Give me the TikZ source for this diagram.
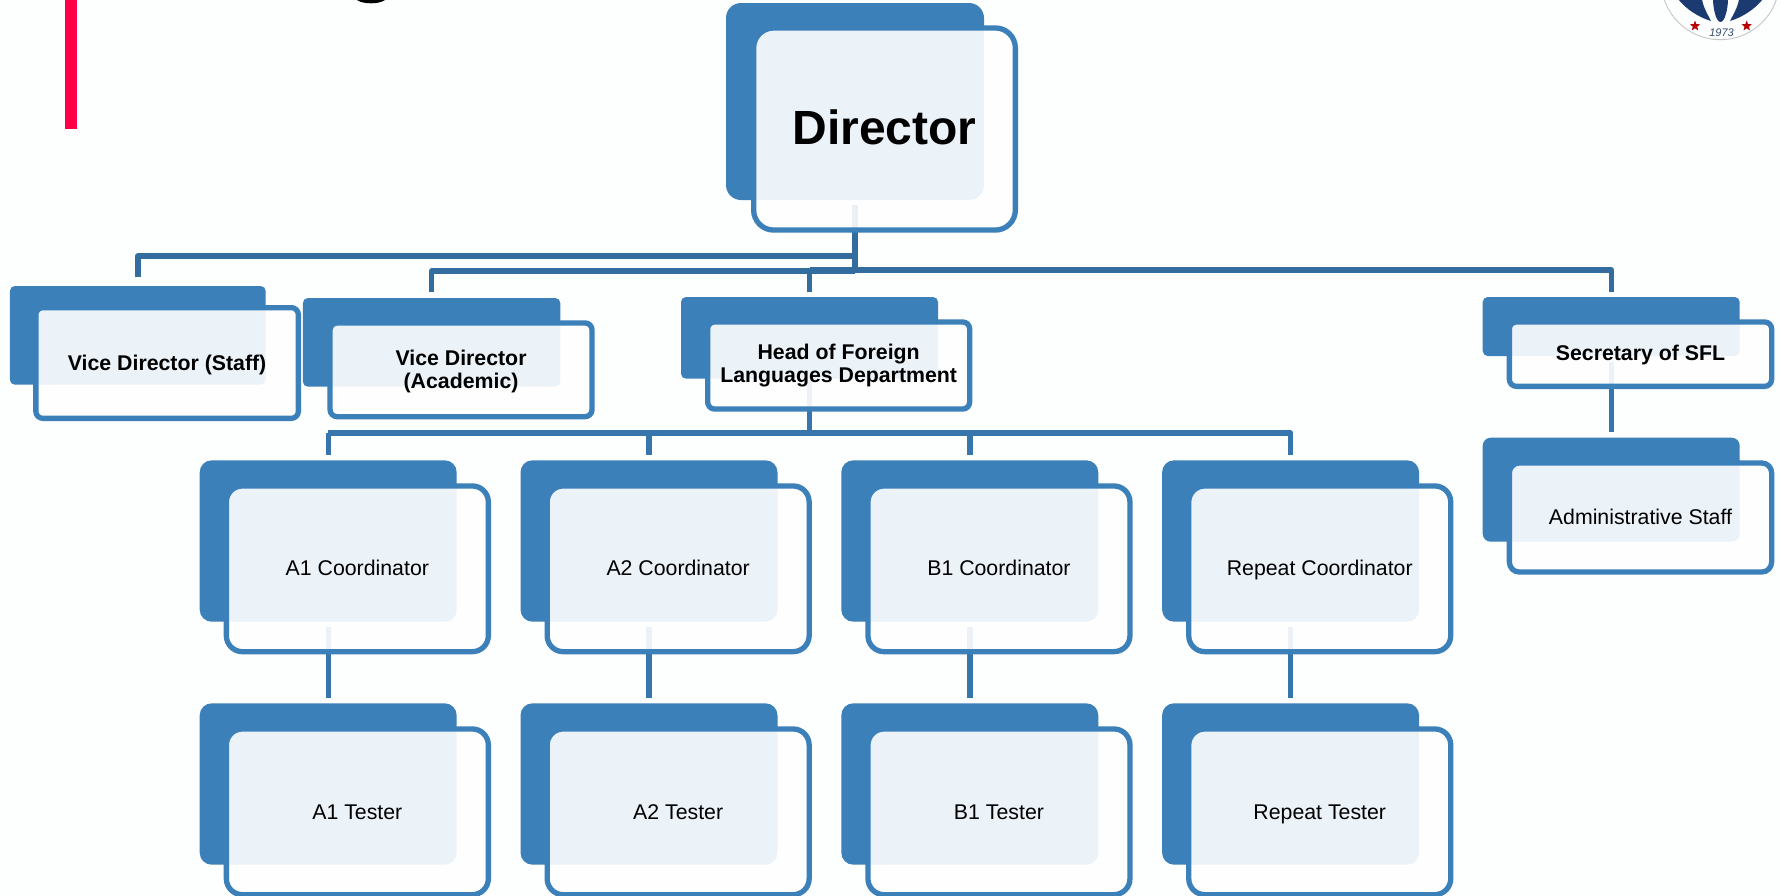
\documentclass[tikz,border=0pt]{standalone}
\usepackage{fontspec}
\setmainfont{Liberation Sans}
\usetikzlibrary{shapes.geometric,calc}
\definecolor{pagebg}{HTML}{FDFEFE}
\definecolor{boxblue}{HTML}{3C80BA}
\definecolor{linetop}{HTML}{336D9F}
\definecolor{linelow}{HTML}{3776AD}
\definecolor{accent}{HTML}{FF0048}
\definecolor{navy}{HTML}{1B3A6F}
\pgfdeclarelayer{backl}
\pgfdeclarelayer{connl}
\pgfsetlayers{backl,connl,main}
\tikzset{
  backbox/.style={rectangle,fill=boxblue,draw=none,inner sep=0pt,outer sep=0pt},
  frontbox/.style={rectangle,draw=boxblue,line width=5.3pt,fill=white,fill opacity=0.9,draw opacity=1,text opacity=1,
    inner sep=0pt,outer sep=0pt,align=center,text=black,
    font=\fontsize{21.3}{23}\selectfont},
  conntop/.style={draw=linetop,line width=5.4pt,line join=round},
  connlow/.style={draw=linelow,line width=5.4pt,line join=round},
  logostar/.style={star,star points=5,star point ratio=2.4,fill=red!72!black,draw=none,minimum size=11pt,inner sep=0pt},
}
% name, x1, y1, x2, y2, radius
\newcommand{\orgback}[6]{%
  \begin{pgfonlayer}{backl}
  \node[backbox,rounded corners=#6pt,minimum width={(#4-#2)*1pt},minimum height={(#5-#3)*1pt}]
    (#1) at ({(#2+#4)/2},{(#3+#5)/2}) {};
  \end{pgfonlayer}}
% name, outer x1, y1, x2, y2, radius, text
\newcommand{\orgfront}[7]{%
  \node[frontbox,rounded corners=#6pt,minimum width={(#4-#2-5.3)*1pt},minimum height={(#5-#3-5.3)*1pt}]
    (#1) at ({(#2+#4)/2},{(#3+#5)/2}) {#7};}
% puts the baseline of a single line the given distance below the node centre
\newcommand{\bln}[1]{\rule[-20pt]{0pt}{\dimexpr 2\dimexpr #1pt\relax + 40pt\relax}}
\begin{document}
\begin{tikzpicture}[x=1pt,y=-1pt]
\useasboundingbox (0,0) rectangle (1781,895);
\begin{pgfonlayer}{backl}
  \fill[pagebg] (0,0) rectangle (1781,895);
  \fill[accent] (65,0) rectangle (77,128.7);
  \fill[black] (357,0) .. controls (363,4.4) and (379,4.4) .. (385,0) -- cycle;
\end{pgfonlayer}

% logo fragment
\begin{scope}
  \clip (1660,0) rectangle (1781,45);
  \draw[gray!45,line width=0.9pt] (1720.3,-19.6) circle (59.3);
  \fill[navy] (1713,-1) -- (1728,-1) .. controls (1728,8) and (1725,22) .. (1720.5,22) .. controls (1716,22) and (1713,8) .. (1713,-1) -- cycle;
  \fill[navy] (1678,-1) -- (1702,-1) .. controls (1703,7) and (1708,15) .. (1711,21) .. controls (1698,17) and (1686,9) .. (1678,-1) -- cycle;
  \fill[navy] (1763,-1) -- (1739,-1) .. controls (1738,7) and (1733,15) .. (1730,21) .. controls (1743,17) and (1755,9) .. (1763,-1) -- cycle;
\end{scope}
\node[logostar] (starL) at (1695,26) {};
\node[logostar] (starR) at (1746.7,26) {};
\node[font=\fontsize{11}{12}\selectfont\itshape,text=navy!75!gray,inner sep=0pt] (year) at (1721.5,32.3) {1973};

% back boxes
\orgback{dirb}{726}{3}{984}{200}{15}
\orgback{staffb}{9.9}{286}{265.7}{384.7}{5}
\orgback{acadb}{302.9}{298}{560.3}{386.7}{5}
\orgback{headb}{681}{297}{938}{378.7}{5}
\orgback{secb}{1482.7}{297}{1739.7}{356}{5}
\orgback{admb}{1482.7}{437.7}{1739.7}{541.7}{8}
\orgback{aoneb}{199.7}{460.3}{456.7}{621.7}{12}
\orgback{atwob}{520.5}{460.3}{777.5}{621.7}{12}
\orgback{boneb}{841.3}{460.3}{1098.3}{621.7}{12}
\orgback{repb}{1162.1}{460.3}{1419.1}{621.7}{12}
\orgback{aonetb}{199.7}{703.3}{456.7}{864.7}{12}
\orgback{atwotb}{520.5}{703.3}{777.5}{864.7}{12}
\orgback{bonetb}{841.3}{703.3}{1098.3}{864.7}{12}
\orgback{reptb}{1162.1}{703.3}{1419.1}{864.7}{12}

% front boxes
\orgfront{dir}{751}{25.3}{1018}{232.7}{20}{\bln{15.3}\fontsize{48}{50}\selectfont\bfseries Director}
\orgfront{staff}{33.2}{305}{301}{421}{7}{\bln{7}\bfseries Vice Director (Staff)}
\orgfront{acad}{327.4}{320.3}{594.7}{419.3}{7}{\rule{0pt}{18.7pt}\bfseries Vice Director\\\bfseries (Academic)}
\orgfront{head}{705}{319.3}{972.3}{411.7}{7}{\rule{0pt}{16.2pt}\bfseries Head of Foreign\\\bfseries Languages Department}
\orgfront{sec}{1506.7}{319.3}{1774.3}{389}{7}{\bln{6.5}\bfseries Secretary of SFL}
\orgfront{adm}{1506.7}{460.3}{1774.3}{574.7}{10}{\bln{6.5}Administrative Staff}
\orgfront{aone}{223.7}{483.3}{491}{654.3}{16}{\bln{6.2}A1 Coordinator}
\orgfront{atwo}{544.5}{483.3}{811.8}{654.3}{16}{\bln{6.2}A2 Coordinator}
\orgfront{bone}{865.3}{483.3}{1132.6}{654.3}{16}{\bln{6.2}B1 Coordinator}
\orgfront{rep}{1186.1}{483.3}{1453.4}{654.3}{16}{\bln{6.2}Repeat Coordinator}
\orgfront{aonet}{223.7}{726.3}{491}{897.3}{16}{\bln{7.2}A1 Tester}
\orgfront{atwot}{544.5}{726.3}{811.8}{897.3}{16}{\bln{7.2}A2 Tester}
\orgfront{bonet}{865.3}{726.3}{1132.6}{897.3}{16}{\bln{7.2}B1 Tester}
\orgfront{rept}{1186.1}{726.3}{1453.4}{897.3}{16}{\bln{7.2}Repeat Tester}

% bus heights
\coordinate (busa) at (0,256);
\coordinate (busb) at (0,271);
\coordinate (busc) at (0,270);
\coordinate (busd) at (0,433);

\begin{pgfonlayer}{connl}
  % from Director
  \draw[conntop] ([yshift=-5pt]dirb.south) -- (dirb.south |- busc) -- (dirb.south |- busb);
  \draw[conntop] (dirb.south |- busa) -- (staffb.north |- busa) -- ([yshift=9pt]staffb.north);
  \draw[conntop] (dirb.south |- busb) -- (acadb.north |- busb) -- ([yshift=6pt]acadb.north);
  \draw[conntop] (headb.north |- busc) -- ([yshift=5.3pt]headb.north);
  \draw[conntop] (headb.north |- busc) -- (secb.north |- busc) -- ([yshift=5.3pt]secb.north);
  % from Head
  \draw[connlow] ([yshift=-1.5pt]headb.south) -- (headb.south |- busd);
  \draw[connlow] (aoneb.north |- busd) -- ([yshift=5.3pt]aoneb.north);
  \draw[connlow] (aoneb.north |- busd) -- (repb.north |- busd) -- ([yshift=5.3pt]repb.north);
  \draw[connlow] (atwob.north |- busd) -- ([yshift=5.3pt]atwob.north);
  \draw[connlow] (boneb.north |- busd) -- ([yshift=5.3pt]boneb.north);
  % coordinators to testers
  \draw[connlow] ([yshift=-5.3pt]aoneb.south) -- ([yshift=5.6pt]aonetb.north);
  \draw[connlow] ([yshift=-5.3pt]atwob.south) -- ([yshift=5.6pt]atwotb.north);
  \draw[connlow] ([yshift=-5.3pt]boneb.south) -- ([yshift=5.6pt]bonetb.north);
  \draw[connlow] ([yshift=-5.3pt]repb.south) -- ([yshift=5.6pt]reptb.north);
  % secretary to staff
  \draw[connlow] ([yshift=-5.7pt]secb.south) -- ([yshift=5.4pt]admb.north);
\end{pgfonlayer}
\end{tikzpicture}
\end{document}
